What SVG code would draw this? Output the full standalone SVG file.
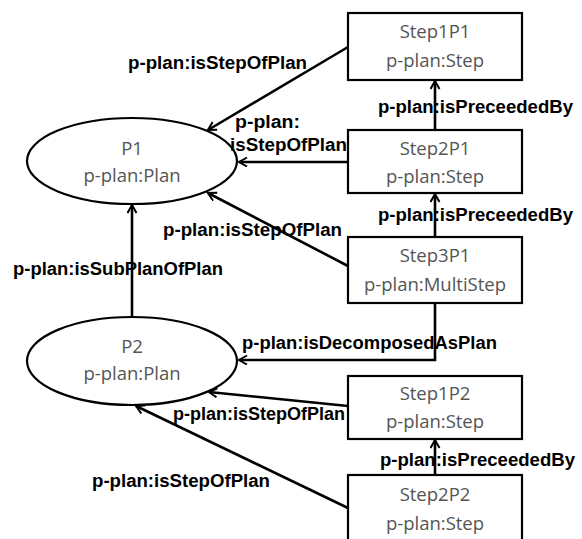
<svg xmlns="http://www.w3.org/2000/svg" width="582" height="539" viewBox="0 0 582 539">
<style>
.box{fill:#fff;stroke:#000;stroke-width:2.2}
.ell{fill:#fff;stroke:#000;stroke-width:2.2}
.nt{font-family:"Open Sans","Liberation Sans",sans-serif;font-size:18.5px;fill:#555;text-anchor:middle}
.lbl{font-family:"Liberation Sans",Arial,sans-serif;font-weight:bold;font-size:18px;fill:#000}
.edge{fill:none;stroke:#000;stroke-width:2.6;marker-end:url(#arr)}
</style>
<defs>
<marker id="arr" markerUnits="userSpaceOnUse" markerWidth="14" markerHeight="14" refX="9" refY="5" orient="auto">
<path d="M1,0.5 L9,5 L1,9.5" fill="none" stroke="#000" stroke-width="2"/>
</marker>
</defs>
<rect width="582" height="539" fill="#fff"/>
<g id="P1"><ellipse class="ell" cx="132" cy="161" rx="105" ry="43"/><text class="nt" x="132" y="155">P1</text><text class="nt" x="132" y="182">p-plan:Plan</text></g>
<g id="P2"><ellipse class="ell" cx="132" cy="361" rx="105" ry="44"/><text class="nt" x="132" y="353">P2</text><text class="nt" x="132" y="380">p-plan:Plan</text></g>
<g id="Step1P1"><rect class="box" x="348" y="13" width="174" height="67"/><text class="nt" x="435" y="38">Step1P1</text><text class="nt" x="435" y="67">p-plan:Step</text></g>
<g id="Step2P1"><rect class="box" x="348" y="130" width="174" height="63"/><text class="nt" x="435" y="155">Step2P1</text><text class="nt" x="435" y="183">p-plan:Step</text></g>
<g id="Step3P1"><rect class="box" x="348" y="237" width="174" height="66"/><text class="nt" x="435" y="262">Step3P1</text><text class="nt" x="435" y="291">p-plan:MultiStep</text></g>
<g id="Step1P2"><rect class="box" x="348" y="376" width="174" height="63"/><text class="nt" x="435" y="400">Step1P2</text><text class="nt" x="435" y="428">p-plan:Step</text></g>
<g id="Step2P2"><rect class="box" x="348" y="475" width="174" height="80"/><text class="nt" x="435" y="501">Step2P2</text><text class="nt" x="435" y="530">p-plan:Step</text></g>
<g id="connectors">
<text class="lbl" x="128" y="69" textLength="179" lengthAdjust="spacingAndGlyphs">p-plan:isStepOfPlan</text>
<text class="lbl" x="235" y="128" textLength="65" lengthAdjust="spacingAndGlyphs">p-plan:</text>
<text class="lbl" x="230" y="151" textLength="117" lengthAdjust="spacingAndGlyphs">isStepOfPlan</text>
<text class="lbl" x="163" y="236" textLength="179" lengthAdjust="spacingAndGlyphs">p-plan:isStepOfPlan</text>
<text class="lbl" x="378" y="113" textLength="195" lengthAdjust="spacingAndGlyphs">p-plan:isPreceededBy</text>
<text class="lbl" x="378" y="221" textLength="195" lengthAdjust="spacingAndGlyphs">p-plan:isPreceededBy</text>
<text class="lbl" x="13" y="275" textLength="210" lengthAdjust="spacingAndGlyphs">p-plan:isSubPlanOfPlan</text>
<text class="lbl" x="242" y="349" textLength="255" lengthAdjust="spacingAndGlyphs">p-plan:isDecomposedAsPlan</text>
<text class="lbl" x="173" y="420" textLength="172" lengthAdjust="spacingAndGlyphs">p-plan:isStepOfPlan</text>
<text class="lbl" x="380" y="466" textLength="195" lengthAdjust="spacingAndGlyphs">p-plan:isPreceededBy</text>
<text class="lbl" x="92" y="487" textLength="178" lengthAdjust="spacingAndGlyphs">p-plan:isStepOfPlan</text>
<path class="edge" d="M348,47 L208,130"/>
<path class="edge" d="M348,162 L239,162"/>
<path class="edge" d="M348,266 L208,193"/>
<path class="edge" d="M132,317 L132,205"/>
<path class="edge" d="M435,303 L435,360 L239,360"/>
<path class="edge" d="M348,406 L209,392"/>
<path class="edge" d="M348,508 L136,406"/>
<path class="edge" d="M435,130 L435,81"/>
<path class="edge" d="M435,237 L435,194"/>
<path class="edge" d="M435,475 L435,440"/>
</g>
</svg>
